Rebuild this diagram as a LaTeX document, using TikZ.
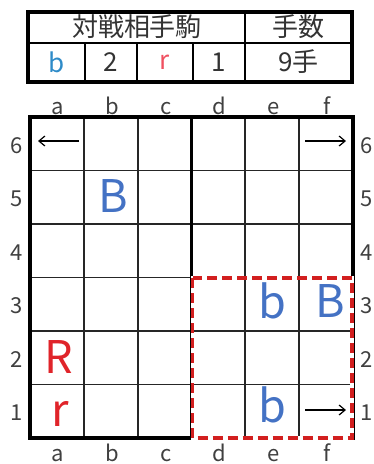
\documentclass[tikz,border=0pt]{standalone}
\usepackage{fontspec}
\usetikzlibrary{arrows.meta}
\setmainfont{Noto Sans CJK JP}
\definecolor{pblue}{HTML}{4472C4}
\definecolor{tblue}{HTML}{2E8BC8}
\definecolor{pred}{HTML}{E0242A}
\definecolor{tred}{HTML}{F05060}
\definecolor{dred}{HTML}{D21F1F}
\tikzset{
  thin line/.style={line width=1.8pt, black!85},
  thick line/.style={line width=3.2pt, black},
  tab/.style={font=\fontsize{26}{26}\selectfont, text=black!80, inner sep=0pt, anchor=center},
  coordlbl/.style={font=\fontsize{22}{22}\selectfont, text=black!75, inner sep=0pt, anchor=base},
  piece/.style={font=\fontsize{45}{45}\selectfont, inner sep=0pt, anchor=base},
  arr/.style={-{Straight Barb[length=6pt,width=10pt,line width=1.2pt]}, line width=1.2pt, black},
}
\begin{document}
\begin{tikzpicture}[x=1pt,y=-1pt]
\useasboundingbox (0,0) rectangle (374,464);
% ---- table ----
\draw[line width=2.2pt] (85,43) -- (85,82) (137,43) -- (137,82) (193,43) -- (193,82);
\draw[line width=2.2pt] (245,12) -- (245,82) (28,43) -- (352,43);
\draw[line width=3.2pt] (28,12) rectangle (352,82);
\node[tab] (t1) at (137,27) {対戦相手駒};
\node[tab] (t2) at (298.5,27) {手数};
\node[tab, text=tblue] (t3) at (56.5,62) {b};
\node[tab] (t4) at (111,62) {2};
\node[tab, text=tred] (t5) at (165,62) {r};
\node[tab] (t6) at (219,62) {1};
\node[tab] (t7) at (298.5,62) {9手};
% ---- board grid ----
\foreach \x in {83.8,137.7,245.3,299.2} \draw[thin line] (\x,117) -- (\x,438);
\foreach \y in {170.5,224,277.5,331,384.5} \draw[thin line] (30,\y) -- (353,\y);
\draw[thick line] (191.5,117) -- (191.5,438);
\draw[thick line] (30,117) rectangle (353,438);
% ---- labels ----
\foreach \l [count=\i from 0] in {a,b,c,d,e,f} {
  \node[coordlbl] (top\l) at (58+53.83*\i,114) {\l};
  \node[coordlbl] (bot\l) at (58+53.83*\i,461) {\l};
}
\foreach \n [count=\i from 0] in {6,5,4,3,2,1} {
  \node[coordlbl] (left\n) at (17,153+53.5*\i) {\n};
  \node[coordlbl] (right\n) at (367,153+53.5*\i) {\n};
}
% ---- pieces ----
\node[piece, text=pblue] (pB1) at (113,212) {B};
\node[piece, text=pblue] (pb1) at (272,318) {b};
\node[piece, text=pblue] (pB2) at (330,317) {B};
\node[piece, text=pred] (pR) at (59,373) {R};
\node[piece, text=pred] (pr) at (60,426) {r};
\node[piece, text=pblue] (pb2) at (272,422) {b};
% ---- arrows ----
\coordinate (a6s) at (79,141); \coordinate (a6e) at (38,141);
\coordinate (f6s) at (305,141); \coordinate (f6e) at (346,141);
\coordinate (f1s) at (305,410); \coordinate (f1e) at (346,410);
\draw[arr] (a6s) -- (a6e);
\draw[arr] (f6s) -- (f6e);
\draw[arr] (f1s) -- (f1e);
% ---- dashed region ----
\draw[white, line width=3.6pt] (192.5,278) rectangle (352,438);
\draw[dred, line width=3.2pt, dash pattern=on 10pt off 5pt] (192.5,278) rectangle (352,438);
\end{tikzpicture}
\end{document}
